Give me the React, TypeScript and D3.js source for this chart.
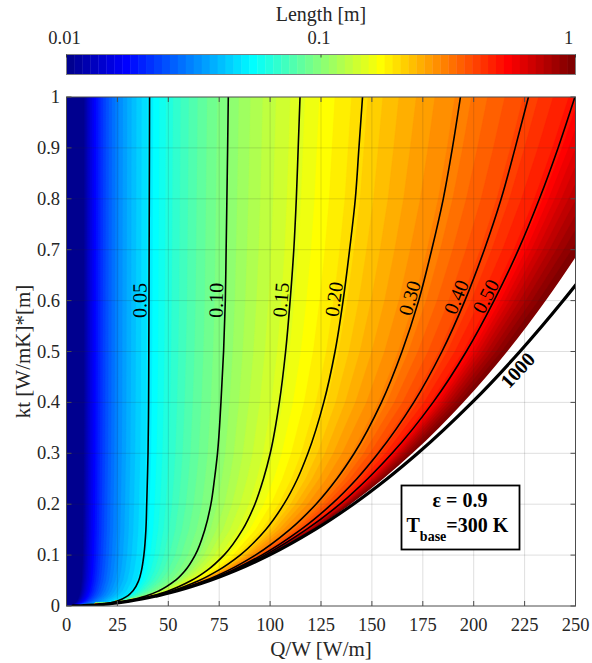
import React, { useMemo } from 'react';
import * as d3 from 'd3';

// ---- data ----
// sample kt values [W/mK * m] at which each contour's Q/W [W/m] was read
const KT = [0.002, 0.005, 0.01, 0.02, 0.03, 0.05, 0.07, 0.1, 0.15, 0.2, 0.25, 0.3, 0.4, 0.5, 0.6, 0.7, 0.8, 0.9, 1.0];
const Q_L005 = [13.43, 19.64, 24.97, 30.06, 32.69, 35.47, 36.83, 38.0, 39.0, 39.39, 39.74, 40.04, 40.32, 40.42, 40.51, 40.59, 40.67, 40.75, 40.81];
const Q_L010 = [13.95, 21.65, 29.59, 39.27, 45.47, 53.37, 58.34, 63.18, 67.93, 70.93, 72.7, 74.16, 75.86, 77.15, 78.01, 78.41, 78.78, 79.14, 79.47];
const Q_L015 = [14.04, 22.03, 30.7, 42.17, 50.18, 61.27, 69.05, 77.35, 86.48, 92.53, 96.75, 100.07, 104.54, 107.62, 109.84, 111.64, 112.88, 113.8, 114.7];
const Q_L020 = [14.06, 22.16, 31.11, 43.29, 52.12, 65.12, 74.53, 85.29, 97.83, 106.75, 113.45, 118.58, 126.36, 131.9, 135.86, 139.05, 141.86, 143.63, 145.4];
const Q_L030 = [14.08, 22.23, 31.37, 44.07, 53.59, 68.16, 79.45, 92.78, 109.64, 122.54, 132.8, 141.34, 154.69, 164.79, 172.97, 179.38, 185.06, 189.55, 193.5];
const Q_L040 = [14.08, 22.25, 31.44, 44.32, 54.07, 69.28, 81.28, 95.91, 115.07, 130.23, 142.65, 153.09, 170.57, 184.41, 195.67, 205.21, 213.5, 220.38, 226.9];
const Q_L050 = [14.08, 22.26, 31.45, 44.41, 54.29, 69.74, 82.15, 97.43, 117.7, 134.25, 147.95, 159.91, 180.03, 196.36, 209.99, 221.97, 232.28, 241.44, 249.7];
// edge of the coloured field (Length = 1 m)
const Q_L100 = [14.08, 22.27, 31.49, 44.53, 54.51, 70.32, 83.15, 99.23, 121.22, 139.49, 155.55, 169.85, 194.86, 216.45, 235.4, 252.46, 268.51, 282.7, 295.9];

const CONTOUR_LEVELS = [0.05, 0.1, 0.15, 0.2, 0.3, 0.4, 0.5];
const CONTOUR_LABELS = ['0.05', '0.10', '0.15', '0.20', '0.30', '0.40', '0.50'];
const EDGE_LEVEL = 1.0;

// thick "1000" limit line
const BOUNDARY_KT = [0.0001, 0.0005, 0.002, 0.005, 0.01, 0.02, 0.03, 0.05, 0.07, 0.1, 0.15, 0.2, 0.25, 0.3, 0.4, 0.5, 0.6, 0.64];
const BOUNDARY_Q = [3.15, 7.04, 14.09, 22.27, 31.5, 44.54, 54.55, 70.43, 83.33, 99.6, 121.98, 140.85, 157.48, 172.51, 199.2, 222.71, 243.97, 251.97];
const BOUNDARY_LABEL = '1000';

const X_TICKS = [0, 25, 50, 75, 100, 125, 150, 175, 200, 225, 250];
const Y_TICKS = [0, 0.1, 0.2, 0.3, 0.4, 0.5, 0.6, 0.7, 0.8, 0.9, 1];
const Y_TICK_LABELS = ['0', '0.1', '0.2', '0.3', '0.4', '0.5', '0.6', '0.7', '0.8', '0.9', '1'];
const CB_TICKS = [0.01, 0.1, 1];
const CB_TICK_LABELS = ['0.01', '0.1', '1'];
const N_COLORS = 64;
const EPSILON = '0.9';
const T_BASE = '300';

// MATLAB jet(m)
function jetColor(i: number, m = N_COLORS) {
  const n = Math.ceil(m / 4);
  const off = Math.ceil(n / 2) - (m % 4 === 1 ? 1 : 0);
  const u = (k: number) => (k < 1 ? 0 : k <= n ? k / n : k <= 2 * n - 1 ? 1 : k <= 3 * n - 1 ? (3 * n - k) / n : 0);
  const I = i + 1;
  return d3.rgb(255 * u(I - off - n), 255 * u(I - off), 255 * u(I - off + n)).formatHex();
}

const FONT = '"Liberation Serif", "Times New Roman", serif';

export default function App() {
  const W = 592, H = 663;
  const x = d3.scaleLinear().domain([0, 250]).range([66.5, 575.5]);
  const y = d3.scaleLinear().domain([0, 1]).range([606, 97]);
  const cb = d3.scaleLog().domain([0.01, 1]).range([66.5, 575.5]);
  const cbTop = 54.5, cbBot = 74.5;
  const [x0, x1] = x.range();
  const [y1, y0] = y.range();
  const pw = x1 - x0, ph = y1 - y0;

  const series = [Q_L005, Q_L010, Q_L015, Q_L020, Q_L030, Q_L040, Q_L050];
  const fillSeries = [...series, Q_L100];
  const fillLevels = [...CONTOUR_LEVELS, EDGE_LEVEL];

  const thresholds = useMemo(() => d3.range(1, N_COLORS).map((k) => Math.pow(10, -2 + (2 * k) / N_COLORS)), []);

  const fillPaths = useMemo(() => {
    const nx = 255, ny = 255;
    const rowScales = fillSeries.map((s) => d3.scaleLinear().domain(KT).range(s).clamp(true));
    const values = new Array(nx * ny);
    for (let j = 0; j < ny; j++) {
      const kt = y.invert(y0 + ((j + 0.5) * ph) / ny);
      const qs = [0, ...rowScales.map((s) => s(kt))];
      const ls = [0, ...fillLevels];
      const rs = d3.scaleLinear().domain(qs).range(ls).clamp(true);
      for (let i = 0; i < nx; i++) {
        const q = x.invert(x0 + ((i + 0.5) * pw) / nx);
        values[j * nx + i] = rs(q);
      }
    }
    const contours = d3.contours().size([nx, ny]).thresholds(thresholds)(values);
    const proj = d3.geoTransform({
      point(px: number, py: number) {
        (this as any).stream.point(x0 + (px * pw) / nx, y0 + (py * ph) / ny);
      },
    });
    const gp = d3.geoPath(proj);
    return contours.map((c, k) => ({ d: gp(c as any) || '', color: jetColor(k + 1) }));
  }, []);

  const line = d3
    .line<[number, number]>()
    .x((d) => x(d[0]))
    .y((d) => y(d[1]))
    .curve(d3.curveMonotoneY);

  const contourPaths = series.map((s) => line(KT.map((k, i) => [s[i], k] as [number, number]).reverse()) || '');
  const boundaryPath = line(BOUNDARY_KT.map((k, i) => [BOUNDARY_Q[i], k] as [number, number]).reverse()) || '';

  // white area beyond the edge of the coloured field
  const edgePts = KT.map((k, i) => [Q_L100[i], k] as [number, number]);
  const edgeCurve = line(edgePts) || '';
  const whitePath =
    `M${x(Q_L100[0])},${y(0)}L${x(Q_L100[0])},${y(KT[0])}` +
    edgeCurve.replace(/^M/, 'L') +
    `L${x(400)},${y(1)}L${x(400)},${y(0)}Z`;

  // labels placed along the lines
  const labelAt = (qs: number[], ktArr: number[], kt: number, dyLocal: number) => {
    const s = d3.scaleLinear().domain(ktArr).range(qs);
    const p = [x(s(kt)), y(kt)];
    const a = [x(s(kt - 0.03)), y(kt - 0.03)];
    const b = [x(s(kt + 0.03)), y(kt + 0.03)];
    const ang = (Math.atan2(b[1] - a[1], b[0] - a[0]) * 180) / Math.PI;
    return { px: p[0], py: p[1], ang, dyLocal };
  };
  const labels = series.map((s, i) => ({ ...labelAt(s, KT, 0.6, -9.5), text: CONTOUR_LABELS[i], bold: false }));
  labels.push({ ...labelAt(BOUNDARY_Q, BOUNDARY_KT, 0.478, 11), text: BOUNDARY_LABEL, bold: true });

  const tickColor = '#262626';
  const axisColor = '#4d4d4d';
  const tl = 5;
  const tickFs = 18.5;
  const labelFs = 21;

  return (
    <svg width={W} height={H} style={{ position: 'absolute', left: 0, top: 0, background: '#fff' }} fontFamily={FONT}>
      <defs>
        <clipPath id="plotclip">
          <rect x={x0} y={y0} width={pw} height={ph} />
        </clipPath>
      </defs>

      {/* colorbar */}
      <text x={(cb.range()[0] + cb.range()[1]) / 2} y={21} textAnchor="middle" fontSize={20} fill={tickColor}>
        Length [m]
      </text>
      {d3.range(N_COLORS).map((k) => {
        const a = cb(Math.pow(10, -2 + (2 * k) / N_COLORS));
        const b = cb(Math.pow(10, -2 + (2 * (k + 1)) / N_COLORS));
        return <rect key={k} x={a} y={cbTop} width={b - a + 0.4} height={cbBot - cbTop} fill={jetColor(k)} />;
      })}
      <rect x={cb.range()[0]} y={cbTop} width={cb.range()[1] - cb.range()[0]} height={cbBot - cbTop} fill="none" stroke="#7f7f7f" strokeWidth={1} />
      {CB_TICKS.map((t, i) => (
        <g key={i}>
          <line x1={cb(t)} x2={cb(t)} y1={cbTop} y2={cbTop + 3} stroke={tickColor} strokeWidth={0.8} />
          <text x={cb(t) - (i === 2 ? 7 : 2)} y={44} textAnchor="middle" fontSize={tickFs} fill={tickColor}>
            {CB_TICK_LABELS[i]}
          </text>
        </g>
      ))}

      {/* filled field */}
      <g clipPath="url(#plotclip)">
        <rect x={x0} y={y0} width={pw} height={ph} fill={jetColor(0)} />
        {fillPaths.map((p, k) => (
          <path key={k} d={p.d} fill={p.color} stroke={p.color} strokeWidth={0.3} />
        ))}
        <path d={whitePath} fill="#fff" />
        {/* grid */}
        {X_TICKS.slice(1, -1).map((t) => (
          <line key={'gx' + t} x1={x(t)} x2={x(t)} y1={y0} y2={y1} stroke="#262626" strokeOpacity={0.15} strokeWidth={1} />
        ))}
        {Y_TICKS.slice(1, -1).map((t) => (
          <line key={'gy' + t} x1={x0} x2={x1} y1={y(t)} y2={y(t)} stroke="#262626" strokeOpacity={0.15} strokeWidth={1} />
        ))}
        {contourPaths.map((d, i) => (
          <path key={i} d={d} fill="none" stroke="#000" strokeWidth={1.6} />
        ))}
        <path d={boundaryPath} fill="none" stroke="#000" strokeWidth={3.2} strokeLinecap="round" />
      </g>

      {labels.map((l, i) => (
        <g key={i} transform={`translate(${l.px},${l.py}) rotate(${l.ang})`}>
          <text y={l.dyLocal} textAnchor="middle" dominantBaseline="central" fontSize={20} fontWeight={l.bold ? 'bold' : 'normal'} fill="#000">
            {l.text}
          </text>
        </g>
      ))}

      {/* axes box and ticks */}
      <rect x={x0} y={y0} width={pw} height={ph} fill="none" stroke={axisColor} strokeWidth={1} />
      {X_TICKS.map((t) => (
        <g key={'xt' + t}>
          <line x1={x(t)} x2={x(t)} y1={y1} y2={y1 - tl} stroke={axisColor} />
          <line x1={x(t)} x2={x(t)} y1={y0} y2={y0 + tl} stroke={axisColor} />
          <text x={x(t)} y={631} textAnchor="middle" fontSize={tickFs} fill={tickColor}>
            {t}
          </text>
        </g>
      ))}
      {Y_TICKS.map((t, i) => (
        <g key={'yt' + t}>
          <line x1={x0} x2={x0 + tl} y1={y(t)} y2={y(t)} stroke={axisColor} />
          <line x1={x1} x2={x1 - tl} y1={y(t)} y2={y(t)} stroke={axisColor} />
          <text x={60} y={y(t)} textAnchor="end" dominantBaseline="central" fontSize={tickFs} fill={tickColor}>
            {Y_TICK_LABELS[i]}
          </text>
        </g>
      ))}
      <text x={(x0 + x1) / 2} y={656} textAnchor="middle" fontSize={labelFs} fill={tickColor}>
        Q/W [W/m]
      </text>
      <text transform={`translate(30,${(y0 + y1) / 2}) rotate(-90)`} textAnchor="middle" fontSize={labelFs} fill={tickColor}>
        kt [W/mK]*[m]
      </text>

      {/* annotation box */}
      <rect x={401.5} y={485.5} width={118} height={64} fill="#fff" stroke="#000" strokeWidth={1.8} />
      <text x={460} y={507} textAnchor="middle" fontSize={20} fontWeight="bold" fill="#000">
        {`ε = ${EPSILON}`}
      </text>
      <text x={406.5} y={531.5} fontSize={20} fontWeight="bold" fill="#000">
        T
        <tspan dy={9} fontSize={14}>
          base
        </tspan>
        <tspan dy={-9}>{`=${T_BASE} K`}</tspan>
      </text>
    </svg>
  );
}
